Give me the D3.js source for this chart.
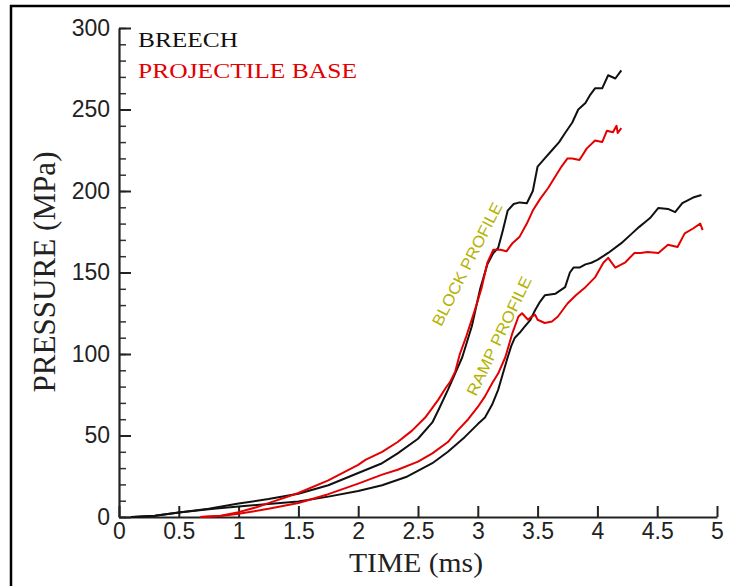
<!DOCTYPE html>
<html>
<head>
<meta charset="utf-8">
<script src="https://cdn.jsdelivr.net/npm/d3@7"></script>
<style>
  html, body { margin: 0; padding: 0; background: #fff; }
  svg { display: block; }
</style>
</head>
<body>
<svg id="chart" width="730" height="586"></svg>
<script>
// Pressure histories [time (ms), pressure (MPa)] for the two chamber profiles
const blockBreech = [
  [0.12,0],[0.3,0.8],[0.5,2.8],[0.75,5],[1.0,8.3],[1.25,11],[1.5,14.3],[1.75,19.5],
  [2.0,27],[2.2,33],[2.33,39],[2.5,48],[2.62,58],[2.68,67],[2.75,78],[2.81,88],
  [2.87,98],[2.95,117],[3.02,140],[3.08,155],[3.13,162],[3.17,165],[3.21,176],
  [3.25,188],[3.3,192],[3.35,193],[3.41,192.5],[3.46,200],[3.5,215],[3.56,220],
  [3.62,225],[3.68,230],[3.73,235.6],[3.79,242],[3.84,250],[3.9,254],[3.94,259],
  [3.98,263],[4.04,263],[4.09,271],[4.15,269],[4.2,274]
];
const blockBase = [
  [0.68,0],[0.85,0.8],[1.0,3],[1.15,6],[1.25,8.5],[1.5,14.7],[1.75,22.5],[2.0,32],
  [2.06,35],[2.2,40],[2.33,46],[2.45,53],[2.56,61],[2.62,67],[2.67,72],[2.73,79],
  [2.77,83],[2.81,89],[2.85,100],[2.9,110],[2.98,128],[3.03,140],[3.08,156],[3.13,164],
  [3.19,164],[3.24,163],[3.29,168],[3.35,172],[3.41,180],[3.46,188],[3.52,195],
  [3.59,202],[3.64,208],[3.7,215],[3.75,220],[3.79,220],[3.85,219],[3.91,226],
  [3.98,231],[4.04,230],[4.08,237],[4.13,236],[4.16,240],[4.17,235.6],[4.2,238.6]
];
const rampBreech = [
  [0.1,0],[0.3,0.8],[0.5,2.7],[0.75,4.8],[1.0,6.5],[1.25,8],[1.5,9.5],[1.75,12.5],
  [2.0,16],[2.2,19.5],[2.4,24.5],[2.62,33],[2.75,40],[2.89,49],[3.0,57],[3.06,61],
  [3.12,69],[3.17,78],[3.21,88],[3.25,98],[3.28,105],[3.31,110],[3.35,113],
  [3.39,116.6],[3.44,121],[3.48,127],[3.52,132],[3.56,136],[3.65,137],[3.73,141],
  [3.77,150],[3.8,153],[3.85,153],[3.9,155],[3.95,156],[4.0,157.7],[4.09,162],
  [4.2,168],[4.29,174],[4.35,178],[4.4,181],[4.44,183.4],[4.51,189.6],[4.59,189],
  [4.65,187],[4.71,192.6],[4.8,196],[4.87,197.5]
];
const rampBase = [
  [0.68,0],[0.85,0.6],[1.0,2],[1.25,5],[1.5,8.6],[1.75,14],[2.0,20.5],[2.2,26],
  [2.33,29],[2.5,34],[2.62,39],[2.75,46],[2.83,53],[2.92,60],[3.0,67.5],[3.06,74],
  [3.12,82],[3.17,88],[3.23,98],[3.29,113],[3.34,123],[3.37,125],[3.42,121],
  [3.45,123],[3.48,124],[3.5,121],[3.56,119],[3.62,120],[3.67,123],[3.75,131],
  [3.82,136],[3.9,141],[3.98,147],[4.05,156],[4.09,159],[4.15,153],[4.23,156],
  [4.31,162],[4.36,162],[4.42,162.6],[4.51,162],[4.59,167],[4.67,165.6],[4.73,174],
  [4.8,177],[4.86,180],[4.88,176]
];

const xTicks = [0, 0.5, 1, 1.5, 2, 2.5, 3, 3.5, 4, 4.5, 5];
const yTicks = [0, 50, 100, 150, 200, 250, 300];
const yMinorTicks = d3.range(0, 301, 10);
const legendLabels = ["BREECH", "PROJECTILE BASE"];
const profileLabels = ["BLOCK PROFILE", "RAMP PROFILE"];

const BLACK = "#111", RED = "#e30000", OLIVE = "#b3b300";
const svg = d3.select("#chart");

// outer frame (left and top edges)
svg.append("line").attr("x1", 11).attr("x2", 11).attr("y1", 5).attr("y2", 586)
  .attr("stroke", "#000").attr("stroke-width", 2.5);
svg.append("line").attr("x1", 10).attr("x2", 730).attr("y1", 6).attr("y2", 6)
  .attr("stroke", "#000").attr("stroke-width", 2.5);

const x = d3.scaleLinear().domain([0, 5]).range([119, 717]);
const y = d3.scaleLinear().domain([0, 300]).range([517, 28]);

const tickFont = "'Liberation Sans', Arial, sans-serif";
const serif = "'Liberation Serif', 'Times New Roman', serif";

// minor y ticks
svg.append("g").attr("transform", `translate(${x(0)},0)`)
  .call(d3.axisLeft(y).tickValues(yMinorTicks).tickSize(-7).tickFormat(""))
  .call(g => g.select(".domain").remove())
  .selectAll("line").attr("stroke", "#333").attr("stroke-width", 1.5);

// y axis
const yAxis = svg.append("g").attr("transform", `translate(${x(0)},0)`)
  .call(d3.axisLeft(y).tickValues(yTicks).tickSize(-12).tickSizeOuter(0)
    .tickPadding(9).tickFormat(d => d));
// x axis
const xAxis = svg.append("g").attr("transform", `translate(0,${y(0)})`)
  .call(d3.axisBottom(x).tickValues(xTicks).tickSize(-11).tickSizeOuter(0)
    .tickPadding(6).tickFormat(d => d));

[yAxis, xAxis].forEach(g => {
  g.select(".domain").attr("stroke", "#222").attr("stroke-width", 2.2);
  g.selectAll(".tick line").attr("stroke", "#222").attr("stroke-width", 2);
  g.selectAll(".tick text").attr("fill", "#222")
    .style("font-family", tickFont).style("font-size", "23px");
});

// curves
const line = d3.line().x(d => x(d[0])).y(d => y(d[1]));
const series = [
  { data: rampBreech, color: BLACK },
  { data: rampBase, color: RED },
  { data: blockBreech, color: BLACK },
  { data: blockBase, color: RED }
];
svg.append("g").selectAll("path").data(series).join("path")
  .attr("d", d => line(d.data))
  .attr("fill", "none")
  .attr("stroke", d => d.color)
  .attr("stroke-width", 2)
  .attr("stroke-linejoin", "round");

// legend
svg.append("text").attr("x", 138).attr("y", 46.5).text(legendLabels[0])
  .attr("fill", BLACK).style("font-family", serif).style("font-size", "22px")
  .attr("textLength", 100).attr("lengthAdjust", "spacingAndGlyphs");
svg.append("text").attr("x", 138).attr("y", 78).text(legendLabels[1])
  .attr("fill", RED).style("font-family", serif).style("font-size", "22px")
  .attr("textLength", 219).attr("lengthAdjust", "spacingAndGlyphs");

// axis titles
svg.append("text").attr("transform", "translate(55,272) rotate(-90)")
  .attr("text-anchor", "middle").text("PRESSURE (MPa)")
  .attr("fill", "#222").style("font-family", serif).style("font-size", "31px")
  .attr("textLength", 241).attr("lengthAdjust", "spacingAndGlyphs");
svg.append("text").attr("x", 416).attr("y", 572)
  .attr("text-anchor", "middle").text("TIME (ms)")
  .attr("fill", "#222").style("font-family", serif).style("font-size", "28px")
  .attr("textLength", 134).attr("lengthAdjust", "spacingAndGlyphs");

// profile annotations
const annot = [
  { text: profileLabels[0], cx: 467, cy: 264, angle: -63, len: 136 },
  { text: profileLabels[1], cx: 499, cy: 336, angle: -64.5, len: 130 }
];
annot.forEach(a => {
  svg.append("text")
    .attr("transform", `translate(${a.cx},${a.cy}) rotate(${a.angle})`)
    .attr("text-anchor", "middle").attr("dy", "0.35em")
    .text(a.text).attr("fill", OLIVE)
    .style("font-family", tickFont).style("font-size", "16px")
    .attr("textLength", a.len).attr("lengthAdjust", "spacingAndGlyphs");
});
</script>
</body>
</html>
